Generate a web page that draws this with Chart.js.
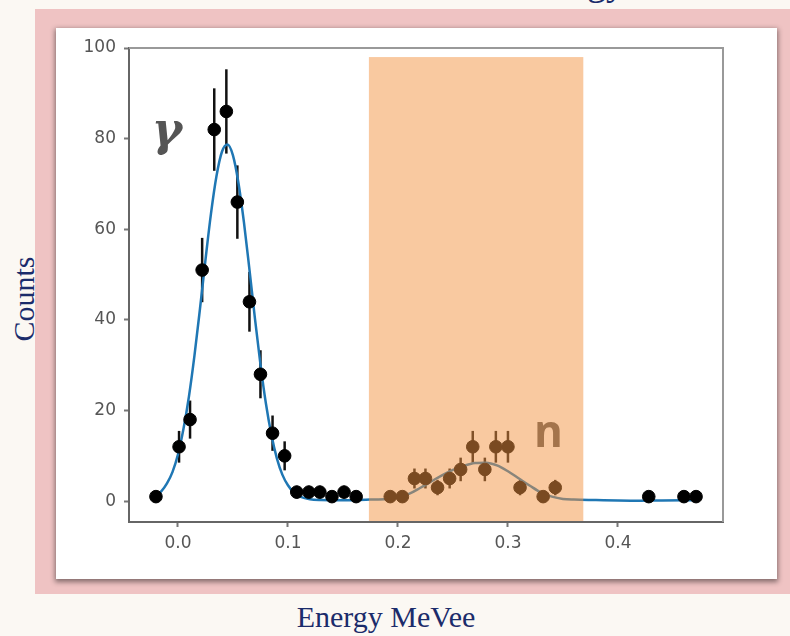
<!DOCTYPE html>
<html>
<head>
<meta charset="utf-8">
<script src="https://cdn.jsdelivr.net/npm/chart.js@4/dist/chart.umd.min.js"></script>
<style>
  body { margin: 0; width: 790px; height: 636px; overflow: hidden; position: relative; background: #fbf8f3; }
  #frame { position: absolute; left: 35px; top: 9px; width: 755px; height: 585px; background: #efc3c3; }
  #panel { position: absolute; left: 56px; top: 28px; width: 721px; height: 551px; background: #fff;
           box-shadow: 0 2px 5px 1px rgba(0,0,0,0.45); }
  .navy { position: absolute; color: #1b2c6b; font-family: "Liberation Serif", serif; white-space: nowrap; }
  #topTitle { right: 165px; top: -37px; font-size: 38px; line-height: 38px; }
  #ylabel { left: 24px; top: 299px; font-size: 30px; line-height: 30px; transform: translate(-50%, -50%) rotate(-90deg); }
  #xlabel { left: 386px; top: 602px; font-size: 30px; line-height: 30px; transform: translateX(-50%); }
  #myChart { position: absolute; left: 0; top: 0; filter: blur(0.4px); }
</style>
</head>
<body>
<div id="frame"></div>
<div id="panel"></div>
<div id="topTitle" class="navy">Energy</div>
<div id="ylabel" class="navy">Counts</div>
<div id="xlabel" class="navy">Energy MeVee</div>
<canvas id="myChart" width="790" height="636"></canvas>
<script>
// measured points (energy bin, counts, error)
const pointX = [-0.020, 0.001, 0.011, 0.022, 0.033, 0.044, 0.054, 0.065, 0.075, 0.086, 0.097,
  0.108, 0.119, 0.129, 0.140, 0.151, 0.162, 0.193, 0.204, 0.215, 0.225, 0.236, 0.247, 0.257,
  0.268, 0.279, 0.289, 0.300, 0.311, 0.332, 0.343, 0.428, 0.460, 0.471];
const pointY = [1, 12, 18, 51, 82, 86, 66, 44, 28, 15, 10,
  2, 2, 2, 1, 2, 1, 1, 1, 5, 5, 3, 5, 7,
  12, 7, 12, 12, 3, 1, 3, 1, 1, 1];
const pointErr = [1.0, 3.5, 4.2, 7.1, 9.1, 9.3, 8.1, 6.6, 5.3, 3.9, 3.2,
  1.4, 1.4, 1.4, 1.0, 1.4, 1.0, 1.0, 1.0, 2.2, 2.2, 1.7, 2.2, 2.6,
  3.5, 2.6, 3.5, 3.5, 1.7, 1.0, 1.7, 1.0, 1.0, 1.0];

// fit curve
const curveX = [-0.02, -0.015, -0.01, -0.005, 0, 0.005, 0.01, 0.015, 0.02, 0.025, 0.03, 0.035,
  0.04, 0.045, 0.05, 0.055, 0.06, 0.065, 0.07, 0.075, 0.08, 0.085, 0.09, 0.095, 0.1, 0.105,
  0.11, 0.115, 0.12, 0.13, 0.15, 0.175, 0.19, 0.2, 0.21, 0.22, 0.23, 0.24, 0.25, 0.26, 0.27,
  0.28, 0.29, 0.3, 0.31, 0.32, 0.33, 0.34, 0.35, 0.36, 0.38, 0.4, 0.42, 0.44, 0.47];
const curveY = [1.3, 2.2, 3.9, 6.4, 10.3, 15.9, 23.1, 32.1, 42.4, 53.2, 63.4, 71.7,
  77.1, 78.7, 76.3, 70.2, 61.5, 51.1, 40.3, 30.2, 21.5, 14.6, 9.4, 5.8, 3.5, 2.0,
  1.1, 0.7, 0.4, 0.25, 0.2, 0.35, 0.5, 0.8, 1.6, 2.9, 4.3, 5.7, 6.9, 7.8, 8.4,
  8.5, 7.9, 6.6, 5.0, 3.4, 1.9, 1.0, 0.5, 0.35, 0.25, 0.15, 0.1, 0.15, 0.2];

const xTicks = [0, 0.1, 0.2, 0.3, 0.4];
const yTicks = [0, 20, 40, 60, 80, 100];

// neutron window
const shadeX = [0.1736, 0.3685];
const shadeTop = 98;

// peak tags
const tagText = ["γ", "n"];
const tagX = [-0.0100, 0.3368];
const tagY = [78.6, 11.9];

const errorBars = {
  id: "errorBars",
  beforeDatasetsDraw(chart) {
    const { ctx, scales: { x, y } } = chart;
    ctx.save();
    ctx.strokeStyle = "#111";
    ctx.lineWidth = 2.5;
    pointX.forEach((v, i) => {
      const px = x.getPixelForValue(v);
      ctx.beginPath();
      ctx.moveTo(px, y.getPixelForValue(pointY[i] - pointErr[i]));
      ctx.lineTo(px, y.getPixelForValue(pointY[i] + pointErr[i]));
      ctx.stroke();
    });
    ctx.restore();
  },
};

const decorations = {
  id: "decorations",
  afterDatasetsDraw(chart) {
    const { ctx, chartArea: a, scales: { x, y } } = chart;
    ctx.save();
    // top and right frame
    ctx.strokeStyle = "#999";
    ctx.lineWidth = 2;
    ctx.beginPath();
    ctx.moveTo(a.left, a.top);
    ctx.lineTo(a.right, a.top);
    ctx.lineTo(a.right, a.bottom);
    ctx.stroke();

    // tags
    ctx.fillStyle = "#555";
    ctx.textAlign = "center";
    ctx.textBaseline = "alphabetic";
    ctx.font = 'bold italic 46px "DejaVu Serif"';
    ctx.fillText(tagText[0], x.getPixelForValue(tagX[0]), y.getPixelForValue(tagY[0]));
    ctx.font = 'bold 44px "Open Sans"';
    ctx.fillText(tagText[1], x.getPixelForValue(tagX[1]), y.getPixelForValue(tagY[1]));

    // translucent window on top
    const x0 = x.getPixelForValue(shadeX[0]);
    const x1 = x.getPixelForValue(shadeX[1]);
    const yt = y.getPixelForValue(shadeTop);
    ctx.fillStyle = "rgba(243, 147, 65, 0.5)";
    ctx.fillRect(x0, yt, x1 - x0, a.bottom - 1 - yt);
    ctx.restore();
  },
};

const tickFont = { family: "DejaVu Sans", size: 17 };

new Chart(document.getElementById("myChart"), {
  type: "scatter",
  data: {
    datasets: [
      {
        data: pointX.map((v, i) => ({ x: v, y: pointY[i] })),
        backgroundColor: "#000",
        borderColor: "#000",
        pointRadius: 6.3,
        pointHoverRadius: 6.3,
        order: 0,
      },
      {
        data: curveX.map((v, i) => ({ x: v, y: curveY[i] })),
        showLine: true,
        borderColor: "#1f77b4",
        borderWidth: 2.5,
        pointRadius: 0,
        cubicInterpolationMode: "monotone",
        order: 1,
      },
    ],
  },
  options: {
    responsive: false,
    animation: false,
    layout: { padding: { left: 69, right: 67, top: 48, bottom: 74 } },
    plugins: { legend: { display: false }, tooltip: { enabled: false } },
    scales: {
      x: {
        type: "linear",
        min: -0.0445,
        max: 0.4955,
        afterBuildTicks: (s) => { s.ticks = xTicks.map((v) => ({ value: v })); },
        afterFit: (s) => { s.height = 40; },
        ticks: {
          color: "#555",
          font: tickFont,
          padding: 6,
          callback: (v) => v.toFixed(1),
        },
        grid: { drawOnChartArea: false, drawTicks: true, tickLength: 5, tickWidth: 2, color: "#777" },
        border: { display: true, color: "#666", width: 2 },
      },
      y: {
        min: -4.6,
        max: 100,
        afterBuildTicks: (s) => { s.ticks = yTicks.map((v) => ({ value: v })); },
        afterFit: (s) => { s.width = 60; },
        ticks: { color: "#555", font: tickFont, padding: 8 },
        grid: { drawOnChartArea: false, drawTicks: true, tickLength: 5, tickWidth: 2, color: "#777" },
        border: { display: true, color: "#666", width: 2 },
      },
    },
  },
  plugins: [errorBars, decorations],
});
</script>
</body>
</html>
